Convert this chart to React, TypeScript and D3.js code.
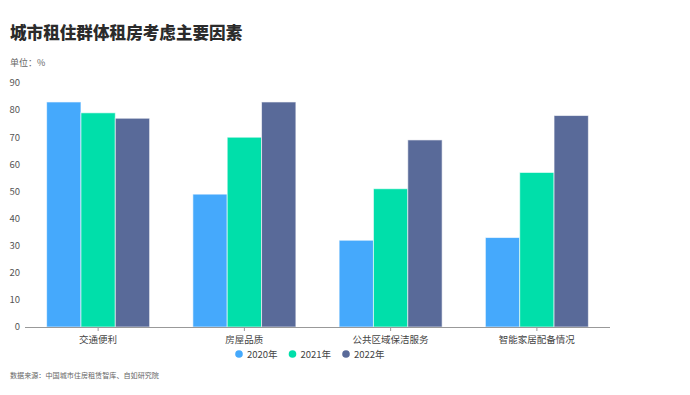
import React from "react";
import * as d3 from "d3";

const categories = ["交通便利", "房屋品质", "公共区域保洁服务", "智能家居配备情况"];
const seriesNames = ["2020年", "2021年", "2022年"];
const values2020 = [83, 49, 32, 33];
const values2021 = [79, 70, 51, 57];
const values2022 = [77, 83, 69, 78];
const yTicks = [0, 10, 20, 30, 40, 50, 60, 70, 80, 90];
const colors = ["#45A9FC", "#00DFAA", "#596A99"];

const W = 690;
const H = 395;
const FONT = "'Noto Sans CJK SC', 'Noto Sans', sans-serif";

export default function App() {
  const series = [values2020, values2021, values2022];
  const x0 = d3.scaleBand<string>().domain(categories).range([25, 610]);
  const y = d3.scaleLinear().domain([0, 90]).range([327, 83]);
  const groupOffset = (x0.bandwidth() - 103) / 2;
  const sub = d3.scaleBand<string>().domain(seriesNames).range([0, 103]);
  const legendX = [239, 292.5, 346];

  return (
    <svg width={W} height={H} style={{ position: "absolute", left: 0, top: 0, background: "#fff" }} fontFamily={FONT}>
      <text x={10} y={39} fontSize={16.6} fontWeight={900} fill="#2b2b2b">城市租住群体租房考虑主要因素</text>
      <text x={10} y={66} fontSize={9} fill="#666">单位：%</text>
      {yTicks.map((t) => (
        <text key={t} x={20} y={y(t)} dy="0.35em" textAnchor="end" fontSize={9.5} fill="#555">{t}</text>
      ))}
      {categories.map((c, ci) => (
        <g key={c}>
          {series.map((vals, si) => (
            <rect
              key={si}
              x={(x0(c) as number) + groupOffset + (sub(seriesNames[si]) as number)}
              y={y(vals[ci])}
              width={sub.bandwidth()}
              height={y(0) - y(vals[ci])}
              fill={colors[si]}
              stroke="#ffffff"
              strokeOpacity={0.6}
              strokeWidth={1}
            />
          ))}
          <line
            x1={(x0(c) as number) + x0.bandwidth() / 2}
            x2={(x0(c) as number) + x0.bandwidth() / 2}
            y1={327}
            y2={331}
            stroke="#999"
          />
          <text x={(x0(c) as number) + x0.bandwidth() / 2} y={343} textAnchor="middle" fontSize={9.5} fill="#444">{c}</text>
        </g>
      ))}
      <line x1={25} x2={610} y1={327.5} y2={327.5} stroke="#999" strokeWidth={1} />
      {seriesNames.map((s, i) => (
        <g key={s}>
          <circle cx={legendX[i]} cy={354} r={3.8} fill={colors[i]} />
          <text x={legendX[i] + 8} y={354.5} dy="0.35em" fontSize={9.5} fill="#444">{s}</text>
        </g>
      ))}
      <text x={10} y={378} fontSize={7.1} fill="#666">数据来源：中国城市住房租赁智库、自如研究院</text>
    </svg>
  );
}
